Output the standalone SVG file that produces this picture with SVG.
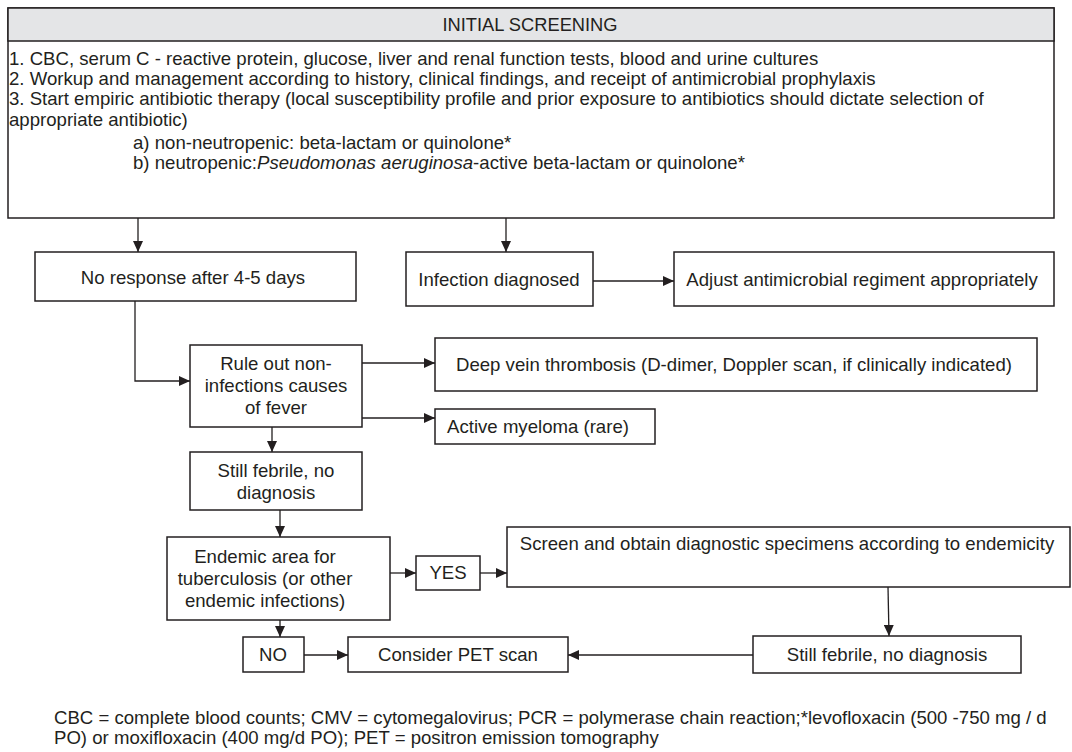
<svg xmlns="http://www.w3.org/2000/svg" width="1072" height="752" viewBox="0 0 1072 752">
<defs>
<marker id="ah" viewBox="0 0 11 10" refX="11" refY="5" markerWidth="11" markerHeight="10" markerUnits="userSpaceOnUse" orient="auto">
<path d="M0,0 L11,5 L0,10 z" fill="#231f20"/>
</marker>
<style>
rect{fill:#fff;stroke:#231f20;stroke-width:1.5}
text{font-family:"Liberation Sans",Arial,sans-serif;font-size:18.6px;fill:#231f20}
.c{text-anchor:middle}
.ln{fill:none;stroke:#231f20;stroke-width:1.3;marker-end:url(#ah)}
</style>
</defs>
<rect width="1072" height="752" style="fill:#fff;stroke:none"/>
<g id="initial">
<rect x="8" y="8" width="1046" height="210"/>
<rect x="8" y="8" width="1046" height="33" style="fill:#e4e5e7"/>
<text class="c" x="530" y="31" style="font-size:18.3px">INITIAL SCREENING</text>
<text x="9" y="65">1. CBC, serum C - reactive protein, glucose, liver and renal function tests, blood and urine cultures</text>
<text x="9" y="85">2. Workup and management according to history, clinical findings, and receipt of antimicrobial prophylaxis</text>
<text x="9" y="105">3. Start empiric antibiotic therapy (local susceptibility profile and prior exposure to antibiotics should dictate selection of</text>
<text x="9" y="126">appropriate antibiotic)</text>
<text x="133" y="149">a) non-neutropenic: beta-lactam or quinolone*</text>
<text x="133" y="169">b) neutropenic:<tspan font-style="italic">Pseudomonas aeruginosa</tspan>-active beta-lactam or quinolone*</text>
</g>
<g id="noresponse">
<rect x="35" y="252" width="321" height="49"/>
<text class="c" x="193" y="284">No response after 4-5 days</text>
</g>
<g id="infection">
<rect x="406" y="252" width="187" height="54"/>
<text class="c" x="499" y="286">Infection diagnosed</text>
</g>
<g id="adjust">
<rect x="674" y="252" width="380" height="54"/>
<text class="c" x="862" y="286">Adjust antimicrobial regiment appropriately</text>
</g>
<g id="ruleout">
<rect x="190" y="345" width="172" height="82"/>
<text class="c" x="276" y="370">Rule out non-</text>
<text class="c" x="276" y="392">infections causes</text>
<text class="c" x="276" y="414">of fever</text>
</g>
<g id="dvt">
<rect x="435" y="338" width="602" height="53"/>
<text class="c" x="734" y="371">Deep vein thrombosis (D-dimer, Doppler scan, if clinically indicated)</text>
</g>
<g id="myeloma">
<rect x="435" y="409" width="220" height="35"/>
<text class="c" x="538" y="433">Active myeloma (rare)</text>
</g>
<g id="still1">
<rect x="190" y="452" width="172" height="58"/>
<text class="c" x="276" y="477">Still febrile, no</text>
<text class="c" x="276" y="499">diagnosis</text>
</g>
<g id="endemic">
<rect x="167" y="537" width="223" height="83"/>
<text class="c" x="265" y="563">Endemic area for</text>
<text class="c" x="265" y="585">tuberculosis (or other</text>
<text class="c" x="265" y="607">endemic infections)</text>
</g>
<g id="yes">
<rect x="416" y="556" width="64" height="34"/>
<text class="c" x="448" y="579">YES</text>
</g>
<g id="screen">
<rect x="507" y="527" width="563" height="60"/>
<text class="c" x="787" y="550">Screen and obtain diagnostic specimens according to endemicity</text>
</g>
<g id="still2">
<rect x="753" y="636" width="268" height="37"/>
<text class="c" x="887" y="661">Still febrile, no diagnosis</text>
</g>
<g id="no">
<rect x="243" y="637" width="61" height="35"/>
<text class="c" x="273" y="661">NO</text>
</g>
<g id="pet">
<rect x="348" y="637" width="220" height="35"/>
<text class="c" x="458" y="661">Consider PET scan</text>
</g>
<g id="footnote">
<text x="54" y="724">CBC = complete blood counts; CMV = cytomegalovirus; PCR = polymerase chain reaction;*levofloxacin (500 -750 mg / d</text>
<text x="54" y="744">PO) or moxifloxacin (400 mg/d PO); PET = positron emission tomography</text>
</g>
<g id="connectors">
<path class="ln" d="M138,218 V252"/>
<path class="ln" d="M506,218 V252"/>
<path class="ln" d="M593,281 H674"/>
<path class="ln" d="M135,301 V381 H190"/>
<path class="ln" d="M362,363 H435"/>
<path class="ln" d="M362,418 H435"/>
<path class="ln" d="M272,427 V452"/>
<path class="ln" d="M280,510 V537"/>
<path class="ln" d="M390,573 H416"/>
<path class="ln" d="M480,573 H507"/>
<path class="ln" d="M888,587 L889,636"/>
<path class="ln" d="M280,620 V637"/>
<path class="ln" d="M304,655 H348"/>
<path class="ln" d="M753,655 H568"/>
</g>
</svg>
